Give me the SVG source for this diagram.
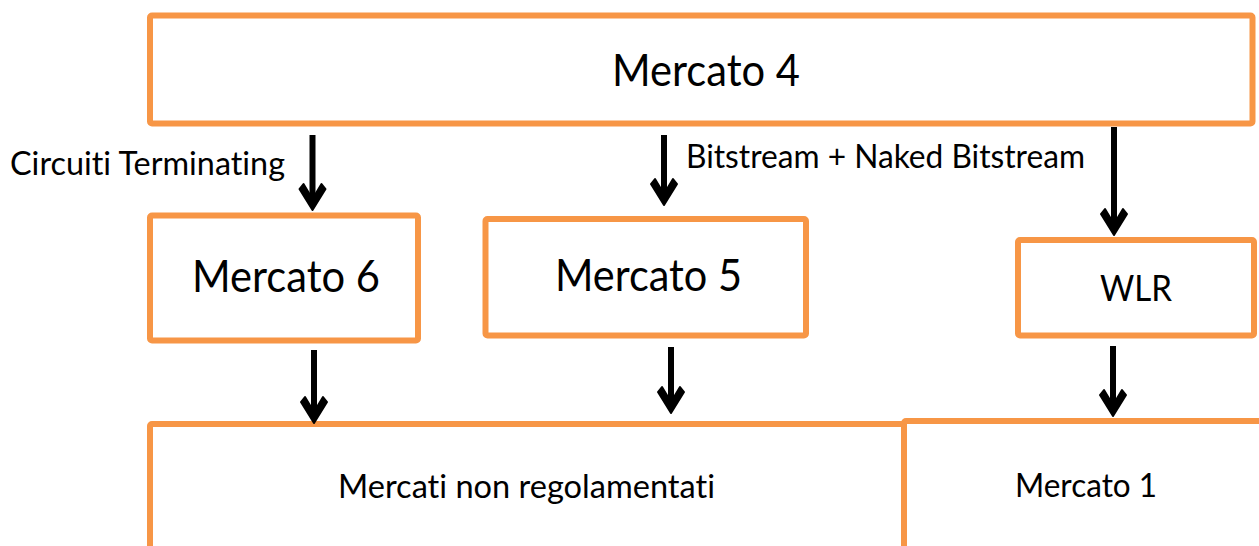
<svg xmlns="http://www.w3.org/2000/svg" width="1259" height="546" viewBox="0 0 1259 546">
<defs>
<style>
.box{fill:#ffffff;stroke:#F79646;stroke-width:6;stroke-linejoin:round}
.t{font-family:Lato,"Open Sans","Liberation Sans",sans-serif;fill:#000000;font-variant-ligatures:none;font-feature-settings:"liga" 0}
.shaft{stroke:#000000;stroke-width:6;fill:none}
.head{fill:#000000;stroke:#000000;stroke-width:2;stroke-linejoin:round}
</style>
<path id="ah" d="M0,0 L-13,-21 L-9,-26 L-3,-16 L3,-16 L9,-26 L13,-21 Z"/>
</defs>
<rect width="1259" height="546" fill="#ffffff"/>
<g id="mercato4">
<rect class="box" x="150" y="15.5" width="1102.5" height="108" rx="2"/>
<text class="t" x="706" y="86" font-size="44" text-anchor="middle" textLength="188" lengthAdjust="spacingAndGlyphs">Mercato 4</text>
</g>
<g id="mercato6">
<rect class="box" x="150" y="215.5" width="268" height="125" rx="2"/>
<text class="t" x="286" y="292" font-size="44" text-anchor="middle" textLength="188" lengthAdjust="spacingAndGlyphs">Mercato 6</text>
</g>
<g id="mercato5">
<rect class="box" x="485.5" y="219" width="320.5" height="116.5" rx="2"/>
<text class="t" x="648.5" y="291" font-size="44" text-anchor="middle" textLength="187" lengthAdjust="spacingAndGlyphs">Mercato 5</text>
</g>
<g id="wlr">
<rect class="box" x="1018" y="240" width="236" height="95.5" rx="2"/>
<text class="t" x="1136" y="301" font-size="36" text-anchor="middle" textLength="72" lengthAdjust="spacingAndGlyphs">WLR</text>
</g>
<g id="nonreg">
<rect class="box" x="150" y="424" width="754" height="200" rx="2"/>
<text class="t" x="526.5" y="498" font-size="33" text-anchor="middle" textLength="377" lengthAdjust="spacingAndGlyphs">Mercati non regolamentati</text>
</g>
<g id="mercato1">
<rect class="box" x="904" y="421" width="400" height="200" rx="2"/>
<text class="t" x="1086" y="497" font-size="33" text-anchor="middle" textLength="142" lengthAdjust="spacingAndGlyphs">Mercato 1</text>
</g>
<g id="connectors">
<line class="shaft" x1="312.5" y1="135" x2="312.5" y2="196"/>
<use href="#ah" class="head" transform="translate(312.5,210)"/>
<line class="shaft" x1="664" y1="135" x2="664" y2="191"/>
<use href="#ah" class="head" transform="translate(664,205)"/>
<line class="shaft" x1="1114" y1="127" x2="1114" y2="221"/>
<use href="#ah" class="head" transform="translate(1114,235)"/>
<line class="shaft" x1="314" y1="350" x2="314" y2="409"/>
<use href="#ah" class="head" transform="translate(314,423)"/>
<line class="shaft" x1="671" y1="347" x2="671" y2="399"/>
<use href="#ah" class="head" transform="translate(671,413)"/>
<line class="shaft" x1="1113" y1="346" x2="1113" y2="402"/>
<use href="#ah" class="head" transform="translate(1113,416)"/>
</g>
<g id="labels">
<text class="t" x="10" y="175" font-size="33" textLength="275" lengthAdjust="spacingAndGlyphs">Circuiti Terminating</text>
<text class="t" x="686" y="168" font-size="33" textLength="399" lengthAdjust="spacingAndGlyphs">Bitstream + Naked Bitstream</text>
</g>
</svg>
